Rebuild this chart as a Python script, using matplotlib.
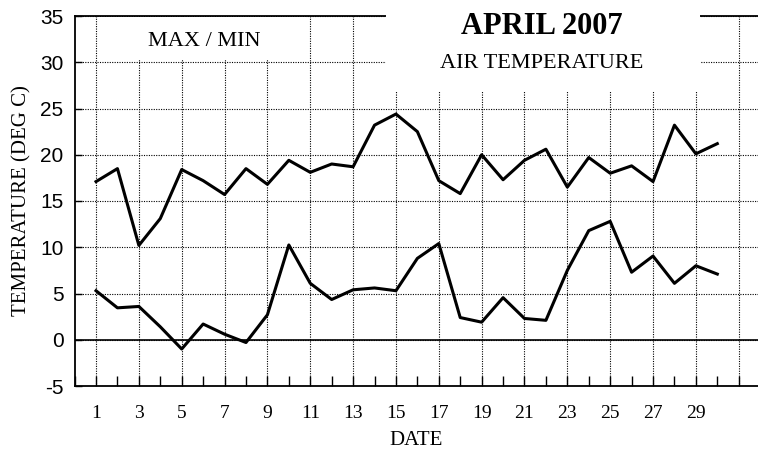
import matplotlib
matplotlib.use("Agg")
from matplotlib import pyplot as plt
from matplotlib.patches import Rectangle
from matplotlib.ticker import MultipleLocator, FixedLocator

days = list(range(1, 31))
t_max = [17.1, 18.5, 10.2, 13.1, 18.4, 17.2, 15.7, 18.5, 16.8, 19.4,
         18.1, 19.0, 18.7, 23.2, 24.4, 22.5, 17.2, 15.8, 20.0, 17.3,
         19.4, 20.6, 16.5, 19.7, 18.0, 18.8, 17.1, 23.2, 20.1, 21.2]
t_min = [5.3, 3.45, 3.6, 1.4, -1.0, 1.7, 0.6, -0.3, 2.7, 10.25,
         6.1, 4.35, 5.4, 5.6, 5.3, 8.8, 10.4, 2.4, 1.9, 4.55,
         2.3, 2.1, 7.5, 11.8, 12.8, 7.3, 9.05, 6.1, 8.0, 7.1]
x_labels = [str(d) for d in range(1, 31, 2)] + ['']

plt.rcParams['axes.unicode_minus'] = False
serif = 'Liberation Serif'

fig = plt.figure(figsize=(7.58, 4.57), dpi=100)
ax = fig.add_axes([74.6 / 758, 71 / 457, 683.4 / 758, 370 / 457])

ax.set_xlim(0, 31.9)
ax.set_ylim(-5, 35)

ax.xaxis.set_major_locator(FixedLocator(range(1, 32, 2)))
ax.xaxis.set_minor_locator(MultipleLocator(1))
ax.set_xticklabels(x_labels, fontfamily=serif, fontsize=14)
ax.yaxis.set_major_locator(MultipleLocator(5))
for lab in ax.get_yticklabels():
    lab.set_fontfamily('Liberation Sans')
    lab.set_fontsize(15)

ax.tick_params(axis='x', which='both', direction='in', length=7.5, width=1,
               pad=14, top=False)
ax.tick_params(axis='y', direction='in', length=5, width=1, pad=8)

ax.grid(True, which='major', linestyle=(0, (1, 1.2)), color='black', linewidth=0.8)
ax.axhline(0, color='black', linewidth=1.2, zorder=2)

ax.spines['right'].set_visible(False)
for s in ['left', 'bottom', 'top']:
    ax.spines[s].set_linewidth(1.3)

ax.plot(days, t_max, color='black', linewidth=2.2, zorder=5)
ax.plot(days, t_min, color='black', linewidth=2.2, zorder=5)

# white boxes behind the labels, hiding grid and top spine
ax.add_patch(Rectangle((1.1, 30.2), 9.7, 4.7, facecolor='white',
                       edgecolor='none', zorder=3))
ax.add_patch(Rectangle((14.53, 26.8), 14.65, 12, facecolor='white',
                       edgecolor='none', zorder=3, clip_on=False))

ax.text(6.04, 32.2, 'MAX / MIN', fontfamily=serif, fontsize=16,
        ha='center', va='center', zorder=6)
fig.text(542 / 758, 1 - 27 / 457, 'APRIL 2007', fontfamily=serif,
         fontsize=22, fontweight='bold', ha='center', va='center')
fig.text(542 / 758, 1 - 63 / 457, 'AIR TEMPERATURE', fontfamily=serif,
         fontsize=16, ha='center', va='center')

ax.set_xlabel('DATE', fontfamily=serif, fontsize=15, labelpad=6)
ax.set_ylabel('TEMPERATURE (DEG C)', fontfamily=serif, fontsize=15, labelpad=6)

fig.savefig('out.png', dpi=100)
